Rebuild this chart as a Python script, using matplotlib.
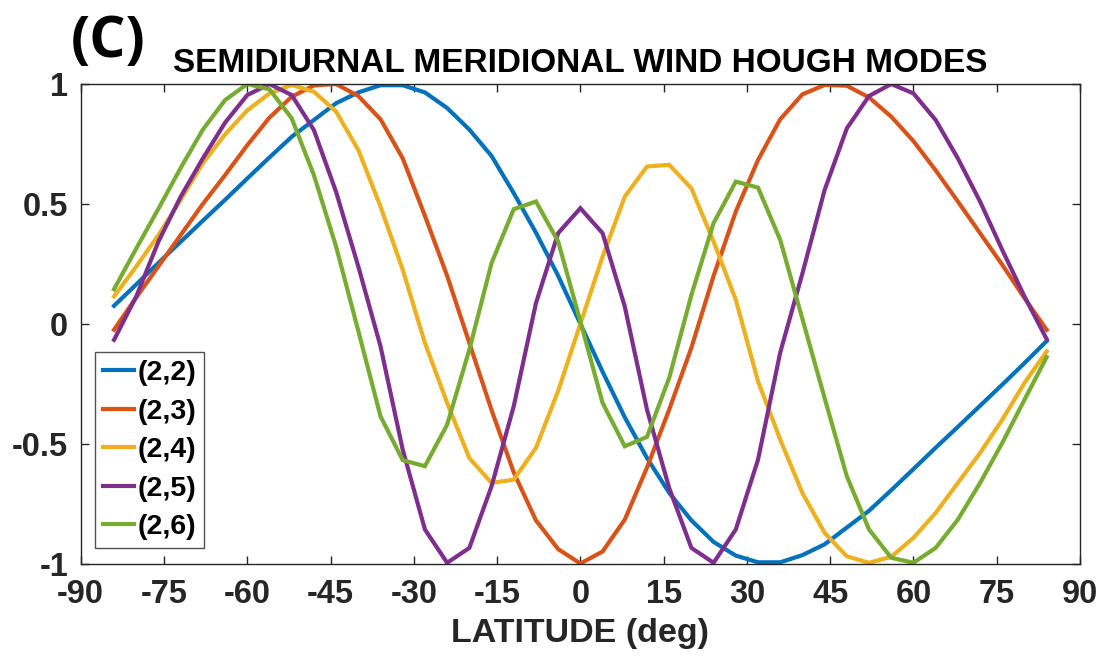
import numpy as np
import matplotlib
matplotlib.use("Agg")
import matplotlib.pyplot as plt

# latitude grid of the Hough functions (deg)
lat = np.arange(-84, 85, 4)

# normalised meridional wind Hough modes
mode_22 = [0.075, 0.164, 0.254, 0.342, 0.43, 0.517, 0.606, 0.694, 0.78, 0.85, 0.92,
           0.965, 0.995, 0.995, 0.965, 0.90, 0.81, 0.70, 0.545, 0.38, 0.20,
           0.0,
           -0.20, -0.39, -0.56, -0.705, -0.82, -0.91, -0.967, -0.995, -0.995, -0.965,
           -0.92, -0.85, -0.78, -0.694, -0.606, -0.517, -0.43, -0.342, -0.254, -0.164, -0.072]
mode_23 = [-0.025, 0.11, 0.24, 0.37, 0.50, 0.62, 0.745, 0.86, 0.947, 0.994, 1.0,
           0.95, 0.853, 0.69, 0.45, 0.20, -0.08, -0.36, -0.62, -0.82, -0.94,
           -1.0,
           -0.95, -0.817, -0.60, -0.358, -0.10, 0.20, 0.468, 0.683, 0.853, 0.957,
           0.996, 0.993, 0.944, 0.864, 0.762, 0.64, 0.51, 0.378, 0.246, 0.107, -0.025]
mode_24 = [0.114, 0.239, 0.37, 0.517, 0.67, 0.79, 0.89, 0.961, 0.996, 0.968, 0.885,
           0.725, 0.489, 0.225, -0.08, -0.33, -0.56, -0.664, -0.65, -0.518, -0.28,
           0.0,
           0.28, 0.53, 0.656, 0.663, 0.565, 0.343, 0.10, -0.24, -0.483, -0.706,
           -0.872, -0.97, -0.997, -0.972, -0.893, -0.789, -0.664, -0.539, -0.40, -0.247, -0.115]
mode_25 = [-0.067, 0.114, 0.343, 0.53, 0.69, 0.839, 0.954, 1.0, 0.954, 0.808, 0.55,
           0.239, -0.094, -0.525, -0.858, -0.997, -0.935, -0.678, -0.344, 0.086, 0.378,
           0.482,
           0.378, 0.072, -0.358, -0.685, -0.935, -0.997, -0.858, -0.567, -0.12, 0.21,
           0.558, 0.815, 0.95, 1.0, 0.961, 0.85, 0.69, 0.51, 0.308, 0.114, -0.064]
mode_26 = [0.144, 0.314, 0.48, 0.65, 0.81, 0.933, 1.0, 0.978, 0.857, 0.62, 0.322,
           -0.03, -0.386, -0.569, -0.594, -0.421, -0.108, 0.253, 0.478, 0.51, 0.343,
           0.01,
           -0.33, -0.511, -0.472, -0.226, 0.12, 0.42, 0.593, 0.568, 0.35, 0.02,
           -0.31, -0.636, -0.858, -0.976, -0.997, -0.935, -0.817, -0.664, -0.497, -0.317, -0.139]

labels = ["(2,2)", "(2,3)", "(2,4)", "(2,5)", "(2,6)"]
colors = ["#0072BD", "#D95319", "#EDB120", "#7E2F8E", "#77AC30"]
xticks = list(range(-90, 91, 15))
yticks = [-1, -0.5, 0, 0.5, 1]
ytick_labels = ["-1", "-0.5", "0", "0.5", "1"]

plt.rcParams["font.family"] = ["Liberation Sans", "DejaVu Sans"]
plt.rcParams["font.weight"] = "bold"
plt.rcParams["axes.unicode_minus"] = False

fig = plt.figure(figsize=(11, 6.58), dpi=100)
ax = fig.add_axes([0.0734, 0.1436, 0.9084, 0.7287])

for y, lab, c in zip([mode_22, mode_23, mode_24, mode_25, mode_26], labels, colors):
    ax.plot(lat, y, color=c, lw=3, label=lab, solid_joinstyle="miter")

ax.set_xlim(-90, 90)
ax.set_ylim(-1, 1)
ax.set_xticks(xticks)
ax.set_yticks(yticks)
ax.set_yticklabels(ytick_labels)
ax.tick_params(direction="in", length=6, width=1, top=True, right=True,
               labelsize=23.5, colors="#262626", labelcolor="#262626")
ax.tick_params(axis="x", pad=11)
ax.tick_params(axis="y", pad=9)
for s in ax.spines.values():
    s.set_color("#262626")
    s.set_linewidth(1)

ax.set_xlabel("LATITUDE (deg)", fontsize=24.5, fontweight="bold", color="#262626", labelpad=6)
ax.set_title("SEMIDIURNAL MERIDIONAL WIND HOUGH MODES", fontsize=24,
             fontweight="bold", pad=9)
fig.text(0.064, 0.913, "(C)", fontsize=41, fontweight="bold",
         family=["Open Sans", "DejaVu Sans"], va="baseline", ha="left")

leg = ax.legend(loc="lower left", bbox_to_anchor=(0.0143, 0.032), borderaxespad=0,
                fontsize=20.5, frameon=True, fancybox=False, handlelength=1.1,
                handletextpad=0.12, borderpad=0.28, labelspacing=0.44)
leg.get_frame().set_edgecolor("#262626")
leg.get_frame().set_linewidth(1)

fig.savefig("out.png", dpi=100)
